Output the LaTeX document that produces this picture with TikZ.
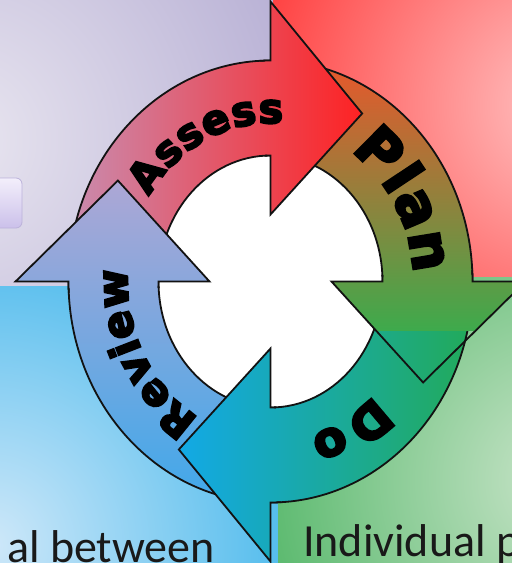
\documentclass[tikz,border=0pt]{standalone}
\usepackage{fontspec}
\usetikzlibrary{calc,decorations.text}
\newfontfamily\arcfont{DejaVu Sans}[BoldFeatures={FakeBold=5}]
\newfontfamily\calfont{Carlito}
% background colours
\definecolor{puIn}{HTML}{E9E6F0}\definecolor{puOut}{HTML}{A89FCC}
\definecolor{reIn}{HTML}{FFC4C4}\definecolor{reOut}{HTML}{FF2626}
\definecolor{blIn}{HTML}{CFE8F9}\definecolor{blOut}{HTML}{16A7E7}
\definecolor{grIn}{HTML}{CBE5CB}\definecolor{grOut}{HTML}{30A94B}
% arrow colours
\definecolor{asA}{HTML}{C98CAF}\definecolor{asB}{HTML}{FF1F1F}
\definecolor{plA}{HTML}{F0532A}\definecolor{plM}{HTML}{B08A36}\definecolor{plB}{HTML}{3EAA4C}
\definecolor{doA}{HTML}{12A9E8}\definecolor{doM}{HTML}{05A7A6}\definecolor{doB}{HTML}{22AA58}
\definecolor{rvA}{HTML}{ADA7D5}\definecolor{rvB}{HTML}{3FA8EA}
\definecolor{boxA}{HTML}{F3EFFB}\definecolor{boxB}{HTML}{CBC0EA}\definecolor{boxE}{HTML}{BBB2DA}
\definecolor{edge}{HTML}{121212}
% band: #1 tail angle, #2 head base angle, #3 tip angle
\newcommand{\bandpath}[3]{($(C)+(#1:202 and 221)$) arc[start angle=#1, end angle=#2, x radius=202, y radius=221] -- ($(C)+(#2:255 and 280)$) -- ($(C)+(#3:178 and 196)$) -- ($(C)+(#2:61 and 67)$) -- ($(C)+(#2:112 and 126)$) arc[start angle=#2, end angle=#1, x radius=112, y radius=126] -- cycle}
% head (with a thin strip of its own band): #1 base, #2 tip, #3 base-2
\newcommand{\headpath}[3]{($(C)+(#3:113 and 127)$) -- ($(C)+(#3:201 and 220)$) -- ($(C)+(#1:202 and 221)$) -- ($(C)+(#1:255 and 280)$) -- ($(C)+(#2:178 and 196)$) -- ($(C)+(#1:61 and 67)$) -- ($(C)+(#1:112 and 126)$) -- cycle}
\newcommand{\headline}[3]{%
  \draw[outl] ($(C)+(#3:202 and 221)$) arc[start angle=#3, end angle=#1, x radius=202, y radius=221] -- ($(C)+(#1:255 and 280)$) -- ($(C)+(#2:178 and 196)$) -- ($(C)+(#1:61 and 67)$) -- ($(C)+(#1:112 and 126)$) arc[start angle=#1, end angle=#3, x radius=112, y radius=126];}
\newcommand{\bandlines}[2]{%
  \draw[outl] ($(C)+(#1:202 and 221)$) arc[start angle=#1, end angle=#2, x radius=202, y radius=221];
  \draw[outl] ($(C)+(#1:112 and 126)$) arc[start angle=#1, end angle=#2, x radius=112, y radius=126];}
\tikzset{
  outl/.style={draw=edge, line width=1.8pt, line join=miter, line cap=butt},
  shAssess/.style={left color=asA, right color=asB},
  shPlan/.style={top color=plA, middle color=plM, bottom color=plB},
  shDo/.style={left color=doA, middle color=doM, right color=doB},
  shReview/.style={top color=rvA, bottom color=rvB},
}
\begin{document}
\begin{tikzpicture}[x=1pt,y=-1pt]
\useasboundingbox (0,0) rectangle (512,563);
\clip (0,0) rectangle (512,563);
\coordinate (C) at (270.5,281.5);
% ---- quadrant backgrounds
\begin{scope}
  \clip (0,0) rectangle (273,286);
  \fill[puOut] (0,0) rectangle (273,286);
  \shade[inner color=puIn, outer color=puOut] (-40,140) circle (470);
\end{scope}
\begin{scope}
  \clip (273,0) rectangle (512,277);
  \fill[reOut] (273,0) rectangle (512,277);
  \shade[inner color=reIn, outer color=reOut] (565,105) circle (380);
\end{scope}
\begin{scope}
  \clip (0,286) rectangle (278,563);
  \fill[blOut] (0,286) rectangle (278,563);
  \shade[inner color=blIn, outer color=blOut] (-10,545) circle (440);
\end{scope}
\begin{scope}
  \clip (278,277) rectangle (512,563);
  \fill[grOut] (278,277) rectangle (512,563);
  \shade[inner color=grIn, outer color=grOut] (565,480) circle (420);
\end{scope}
% ---- small box at left
\shadedraw[top color=boxA, bottom color=boxB, draw=boxE, line width=0.8pt, rounded corners=6pt] (-20,178) rectangle (22,228);
% ---- white centre
\fill[white] (C) ellipse [x radius=112, y radius=126];
% ---- layer 1: bands with heads
\begin{scope}\clip \bandpath{180}{270}{301}; \shade[shAssess] (70,-10) rectangle (370,300);\end{scope}
\begin{scope}\clip \bandpath{270}{360}{391}; \shade[shPlan] (260,50) rectangle (540,330);\end{scope}
\begin{scope}\clip \bandpath{0}{90}{121}; \shade[shDo] (175,270) rectangle (475,570);\end{scope}
\begin{scope}\clip \bandpath{90}{180}{211}; \shade[shReview] (0,180) rectangle (285,505);\end{scope}
\bandlines{180}{270}
\bandlines{270}{360}
\bandlines{0}{90}
\bandlines{90}{180}
% ---- layer 2: heads on top of the next band's tail
\begin{scope}\clip \headpath{270}{301}{268}; \shade[shAssess] (70,-10) rectangle (370,300);\end{scope}
\begin{scope}\clip \headpath{360}{391}{358}; \shade[shPlan] (260,50) rectangle (540,330);\end{scope}
\begin{scope}\clip \headpath{90}{121}{88}; \shade[shDo] (175,270) rectangle (475,570);\end{scope}
\begin{scope}\clip \headpath{180}{211}{178}; \shade[shReview] (0,180) rectangle (285,505);\end{scope}
\headline{270}{301}{267}
\headline{360}{391}{357}
\headline{90}{121}{87}
\headline{180}{211}{177}
% ---- words along the ring
\path[decorate, decoration={text along path, text align={fit to path},
  text={|\arcfont\bfseries\fontsize{41}{41}\selectfont|Assess}}]
  ($(C)+(212.5:144 and 158.4)$) arc[start angle=212.5, end angle=275, x radius=144, y radius=158.4];
\path[decorate, decoration={text along path, text align={fit to path},
  text={|\arcfont\bfseries\fontsize{56}{56}\selectfont|Plan}}]
  ($(C)+(304:143 and 157.3)$) arc[start angle=304, end angle=357, x radius=143, y radius=157.3];
\path[decorate, decoration={text along path, text align={fit to path},
  text={|\arcfont\bfseries\fontsize{48}{48}\selectfont|Do}}]
  ($(C)+(45:146 and 160.6)$) arc[start angle=45, end angle=74.5, x radius=146, y radius=160.6];
\path[decorate, decoration={text along path, text align={fit to path},
  text={|\arcfont\bfseries\fontsize{42}{42}\selectfont|Review}}]
  ($(C)+(120:143 and 157.3)$) arc[start angle=120, end angle=184.6, x radius=143, y radius=157.3];
% ---- partial texts at the bottom
\node[anchor=base west, inner sep=0pt, font=\calfont\fontsize{46}{46}\selectfont, text=black!90] (tl) at (7,562) {al between};
\node[anchor=base west, inner sep=0pt, font=\calfont\fontsize{46}{46}\selectfont, text=black!90] (tr) at (303,556) {Individual p};
\end{tikzpicture}
\end{document}
